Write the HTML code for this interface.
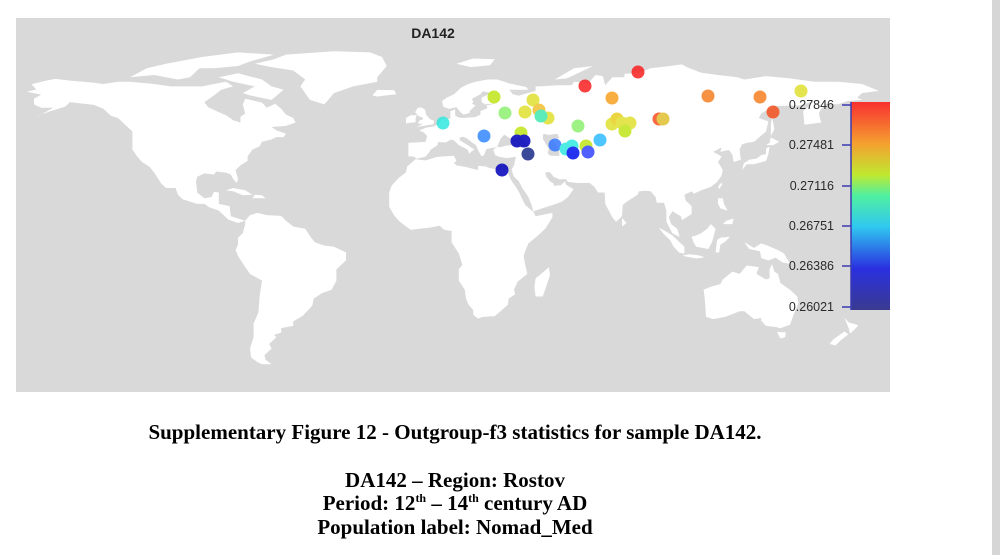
<!DOCTYPE html>
<html><head><style>
body{margin:0;width:1000px;height:555px;background:#fff;position:relative;overflow:hidden;font-family:"Liberation Sans",sans-serif}
.cap{position:absolute;left:0;width:910px;text-align:center;font-family:"Liberation Serif",serif;font-weight:bold;font-size:21px;line-height:24px;color:#000}
</style></head><body>
<div style="position:absolute;left:992px;top:0;width:8px;height:555px;background:#d6d6d6"></div>
<svg width="1000" height="400" style="position:absolute;left:0;top:0">
<rect x="16" y="18" width="874" height="374" fill="#d9d9d9"/>
<text x="433" y="38" text-anchor="middle" font-weight="bold" font-size="14" fill="#222">DA142</text>
<g transform="translate(430,240) scale(2.40,-2.26)" fill="#fff">
<polygon points="-165,54.5 -158,57 -152,59 -150,61 -146,60.5 -140,59.8 -136,58 -133,55 -130,54 -127,51 -124,48 -124,43 -124,40 -122,37 -120,34.5 -117,32.5 -115,30 -112,25 -110,23 -106,23 -105,20 -103,18 -97,16 -94,16 -92,14.5 -88,13 -86,11 -84,9 -80,7.5 -77,8.5 -80,9.5 -83,10.5 -83.5,15 -88,16 -88,21 -90,21.3 -91,19 -94,18.5 -97,21 -97.5,26 -97,28 -94,29.5 -90,29 -89,30.3 -85,29.8 -83,29 -82,27 -80.5,25.2 -80,27 -81,31 -79,33 -76,35 -76,37 -74,40 -71,41.5 -70,43.5 -66,44.5 -64,45.5 -61,45.5 -60,47 -64,48.5 -66,50 -60,50.5 -56,52 -57,54 -60,55.5 -62,58 -64.5,60.3 -68,58.5 -70,60.8 -77,62.5 -78,60 -77,56 -79,54.5 -79,52 -82,53 -85,55.2 -89,57 -92.5,58.8 -94,61 -90,64 -87,66.5 -82,68 -85,70 -90,69 -95,68 -100,68 -108,68 -115,69 -125,70 -130,70 -136,69 -141,69.7 -150,70.5 -156,71.3 -160,70.5 -166,68.9 -164,66.6 -168,65.6 -162,64.3 -165,62.5 -165,60 -162,58.5 -157,58.5 -162,55.5"/>
<polygon points="-61,66.5 -66,62 -75,64 -78,65 -73,68 -82,70 -88,72 -80,73.8 -70,71 -66,68"/>
<polygon points="-125,72 -115,73 -105,71 -100,72 -96,76 -90,76 -80,77 -75,79 -65,82 -80,83 -95,81 -110,78 -118,76"/>
<polygon points="-44,60 -50,62 -52,65 -54,68 -52,71 -57,75 -66,76.5 -73,78 -65,80 -60,82 -40,83.5 -25,83 -20,81 -18,77 -22,72 -22,70 -32,68 -40,65"/>
<polygon points="-24,64 -22,63.5 -14,64.5 -15,66.3 -22,66.4"/>
<polygon points="-85,22 -82,23 -77,22 -74,20 -78,19.8 -82,21.5"/>
<polygon points="-74,18.5 -68.5,18.5 -70,19.8 -73,20"/>
<polygon points="-77,8.5 -75,11 -72,12 -68,11 -62,10.7 -60,8.5 -57,6 -52,5 -50,1.7 -48,-1 -44,-2.5 -40,-3 -35,-5.5 -35,-9 -39,-13 -39,-18 -41,-22 -45,-23.5 -48.5,-26 -49,-29 -53,-33.5 -57,-36 -57,-38 -62,-39 -62,-41 -65,-42 -64,-43 -67,-46 -66,-48 -69,-51 -68.5,-53 -66,-55 -70,-55 -72,-54 -74.5,-52 -75,-48 -73.5,-43 -73.5,-37 -71.5,-32 -71,-25 -70,-18 -75,-15 -77,-12 -80,-7 -81,-4.5 -80,-2 -80,1 -78,3 -77,7"/>
<polygon points="-17,21 -16,24 -13,27.5 -10,30 -9.5,32.5 -6,35.8 -2,35.2 3,36.8 10,37.3 11,35 10,34 11,33 15,32.3 20,31 20,32.8 23,32.6 25,31.8 29,31 32.3,31.2 32.5,29.9 33.5,27 35.5,23.9 37.2,21 38.5,18 39.7,15.5 41.5,13.8 43.2,12.4 44,10.5 51,12 51,10 48,5 45,2 41,-1.5 40,-4 39,-7 39.5,-10 40.5,-15 36.5,-18.5 35,-22 35.5,-24 32.7,-26 32.5,-28.6 30,-31 27,-33.7 22,-34 20,-34.8 18,-33 18,-31 16,-28.5 15,-26 14.5,-22 12,-18 12,-13 13.5,-11 12,-6 9,-1 9,4 6,4.5 4,6.3 0,5.5 -4.5,5 -8,4.5 -11,6.8 -13,8.5 -15,11 -17,14.7"/>
<polygon points="44,-25 47,-25 50,-15.5 49.5,-12 48,-13.5 44,-17 43.5,-21"/>
<polygon points="-9,37 -9,43 -1.8,43.4 -1.2,46 -2.5,47.5 -4.5,48.5 -1.5,49.7 1.5,50.2 4,51.5 5,53.4 8.5,53.7 8.5,57 10.5,57.7 10.5,55 12,54.2 14,54 19,54.4 21,55.5 21,57 24,58.4 23.5,59.5 28,60.5 23,60 21.5,61 21.5,63 25.5,65 22,65.8 21,64.5 17.5,62.5 18,61 17.5,60.3 19,59.5 16.5,57 16.5,56.2 14,55.5 12.7,56.5 11,58.8 8,58 5.5,59 5,61.5 7,63 10,64.5 13,67.5 16,69 19,70 24,71 28,71 31,70 33,69.3 40,67.7 41,66.5 33,66.5 34.5,64.5 37,63.8 39,64.5 44,66 44,68 46,68 53,68.5 59,68.5 60,70 66,69.5 69,73 72,72.5 73,68.5 76,72 81,72 81,73.5 87,74 92,76 100,77 105,77.7 107,76.5 113,74 120,73 128,72 131,71 140,72.5 150,71.5 160,70 170,70 180,69 187,66 180,65 178,63 180,62 174,61.5 170,60 165,60.3 163,58 162,56 163,52 156,51 155.5,57 160,61.5 154,59.5 143,59.3 138,56 137,54 141,52.5 140,48 135,43.5 132,43 130,42.3 129,40 129.5,35.5 126.5,34.5 126,37.8 124.5,39.8 121,39 121.5,41 118,39 121.5,37 120,34.5 122,31 121.5,28.5 119.5,25.5 117,23.5 113,22 110,20.5 109,21.5 106,20 106.5,17.5 109,15 109,11.5 105,8.8 104.5,10.5 101,12.8 99.5,10 100.5,7 103,5 104,1.3 101,3 98.5,8 98.5,13 97.5,16.5 94.5,16.5 94,19 92,21.5 90,21.8 87,21.5 86.5,20 82,17 80.3,15.5 80,10.5 77.5,8 76,10 73,16 72.8,21 70,21 68.5,23.5 66.5,25.3 61.5,25.2 57.5,25.7 56.5,27 54,26.8 51.5,28 50,30 48,30 48.5,28 50,26 51.5,25 51.5,24 54.5,24.2 56.3,26 56.6,24.5 59.8,22.5 57.5,19 55,17 52,15.8 43,12.7 42.5,15 41,19 38.5,23 37,26 35,28 34.5,29.5 34,31.2 35,33 35.8,36.8 32,36.3 29,36.7 27.2,37.5 26.5,39.5 26.5,40.2 28,41 26,40.8 23.5,40.2 22.5,37.5 21.5,37 20,39.8 19.3,41.8 15,45.2 13.7,45.7 12.3,45.3 12.5,44 16,41.8 18.5,40 17,39 16.5,38 15.7,40 12,42 10,44 8.7,44.4 6.6,43.2 3.3,43.3 3.1,41.9 0.3,40 -0.5,38.5 -2,36.8 -5.6,36 -7,37"/>
<polygon points="-5.7,50 1.4,51.2 1.7,52.7 0,53.5 -1.7,55.6 -2,57.6 -3.4,58.6 -5,58.6 -6.2,56.5 -4.8,54.8 -3,54.2 -3,53.3 -4.5,52.8 -5,51.6 -3,51.3"/>
<polygon points="-10,51.6 -6,52.1 -6,54 -5.5,55.2 -8,55.2 -10,54"/>
<polygon points="130,31 132,33.5 135,33.5 140,35 141,38 141.5,41.3 140,40.5 140,38 138,37.5 136,36 133,35.5 130.8,34"/>
<polygon points="140,42 143,42 145.5,43.5 142,45.4 141.5,43"/>
<polygon points="142,46 143.5,49 142.5,54.4 142,51"/>
<polygon points="120.5,22.5 122,25 121,25 120,23.5"/>
<polygon points="120,18.5 122,18.5 122.5,16 124,13 121,14 120,16"/>
<polygon points="122,7 126,7 126.5,9.5 123.5,8.5"/>
<polygon points="109,1.5 110.5,1.8 113,3 115.5,5 117,7 119,5 118,1 117.5,-1 116,-4 111,-3 110,-1.5"/>
<polygon points="95.3,5.5 98,4 101,2 104,-1 106,-3 106,-6 104,-5.7 101.5,-3 100,0 97.5,2.5"/>
<polygon points="105.3,-6.8 108,-6.3 112,-6.8 114.5,-7.7 111,-8.2 106.5,-7.3"/>
<polygon points="119,-5.5 120.5,-5.5 121,-2 123,-0.8 125,1.5 121,1 119.6,0"/>
<polygon points="131,-1 135,-3.5 138,-1.5 141,-2.6 145,-4.5 147.5,-6 150,-10.5 147,-10 144,-7.8 141,-9 138,-8 137.5,-5 133,-4"/>
<polygon points="114,-22 114.5,-26 115,-34 118,-35 123,-34 129,-31.5 131,-31.5 135,-35 138,-34.5 138,-35.7 140,-38 144,-38.5 146,-39 150,-37.5 151.5,-33 153.5,-28 153,-25 150,-22 146,-19 145,-15 143.5,-14 142.5,-10.7 141.5,-13 141.5,-17 140,-17.5 136,-15 137,-12 132,-11.3 129,-15 126,-14 122,-17.5 121,-19.5 117,-20.7"/>
<polygon points="144.6,-40.7 148.3,-40.9 148,-43 146,-43.6"/>
<polygon points="172.7,-34.4 174.5,-36.5 178.5,-37.7 177,-39.5 175,-41.5 174.6,-39.5"/>
<polygon points="172.7,-40.5 174.3,-41.7 171,-44.5 169,-46.6 166.5,-46 168,-44"/>
<polygon points="80,6 81.9,7.5 80,9.8"/>
<polygon points="52,71 56,73.5 60,76 68,77 62,74 57,71.5"/>
<polygon points="11,78 17,76.5 25,77.3 27,80 18,80.3"/>
<g fill="#d9d9d9">
<polygon points="28,41.2 29.5,45 31,46.6 33,45.2 35,45 36.5,45.3 38,47 39.5,47.2 38,45.3 41.5,41.6 38,40.9 35,42 32,41.8 29.5,41.1"/>
<polygon points="47,44.8 47.2,47 49.5,46.5 53,47 54,45 51,44.6 52.5,41.8 53.8,40.5 53.9,37.2 50,37.3 49,38.5 49.5,40.3"/>
</g>
</g>
<g opacity="0.85">
<circle cx="494" cy="97" r="6.5" fill="#bfe61a"/>
<circle cx="533" cy="100" r="6.5" fill="#e0e030"/>
<circle cx="585" cy="86" r="6.5" fill="#f82020"/>
<circle cx="638" cy="72" r="6.5" fill="#f82020"/>
<circle cx="612" cy="98" r="6.5" fill="#f7a020"/>
<circle cx="708" cy="96" r="6.5" fill="#f58020"/>
<circle cx="760" cy="97" r="6.5" fill="#f58020"/>
<circle cx="801" cy="91" r="6.5" fill="#e0e030"/>
<circle cx="773" cy="112" r="6.5" fill="#f55020"/>
<circle cx="505" cy="113" r="6.5" fill="#8ef070"/>
<circle cx="525" cy="112" r="6.5" fill="#e0e030"/>
<circle cx="539" cy="110" r="6.5" fill="#f0c030"/>
<circle cx="548" cy="118" r="6.5" fill="#e0e030"/>
<circle cx="541" cy="116" r="6.5" fill="#40e8b0"/>
<circle cx="443" cy="123" r="6.5" fill="#30e8e0"/>
<circle cx="484" cy="136" r="6.5" fill="#3388ff"/>
<circle cx="521" cy="133" r="6.5" fill="#bfe61a"/>
<circle cx="517" cy="141" r="6.5" fill="#0000bb"/>
<circle cx="524" cy="141" r="6.5" fill="#0000bb"/>
<circle cx="528" cy="154" r="6.5" fill="#1a2a8a"/>
<circle cx="502" cy="170" r="6.5" fill="#0000bb"/>
<circle cx="555" cy="145" r="6.5" fill="#3377ff"/>
<circle cx="566" cy="149" r="6.5" fill="#30e8e0"/>
<circle cx="572" cy="146" r="6.5" fill="#30e8e0"/>
<circle cx="586" cy="146" r="6.5" fill="#bfe61a"/>
<circle cx="573" cy="153" r="6.5" fill="#0010ee"/>
<circle cx="588" cy="152" r="6.5" fill="#3344ff"/>
<circle cx="600" cy="140" r="6.5" fill="#30bbff"/>
<circle cx="578" cy="126" r="6.5" fill="#8ef070"/>
<circle cx="612" cy="124" r="6.5" fill="#e0e030"/>
<circle cx="617" cy="119" r="6.5" fill="#e8d020"/>
<circle cx="622" cy="123" r="6.5" fill="#e0e030"/>
<circle cx="630" cy="123" r="6.5" fill="#e0e030"/>
<circle cx="625" cy="131" r="6.5" fill="#bfe61a"/>
<circle cx="659" cy="119" r="6.5" fill="#f55020"/>
<circle cx="663" cy="119" r="6.5" fill="#e0c030"/>
</g>
<defs><linearGradient id="g" x1="0" y1="0" x2="0" y2="1">
<stop offset="0" stop-color="#f83030"/><stop offset="0.2" stop-color="#f5a030"/><stop offset="0.35" stop-color="#c0e830"/><stop offset="0.45" stop-color="#50f0a0"/><stop offset="0.6" stop-color="#30c8f0"/><stop offset="0.8" stop-color="#2a30e0"/><stop offset="1" stop-color="#3a3a90"/></linearGradient></defs>
<rect x="851" y="102" width="39" height="208" fill="url(#g)"/>
<line x1="851" y1="102" x2="851" y2="310" stroke="#3a3ab0" stroke-width="1.5"/>
<g stroke="#3a3ab0" stroke-width="1.5"><line x1="842" y1="105" x2="851" y2="105"/><line x1="842" y1="145" x2="851" y2="145"/><line x1="842" y1="186" x2="851" y2="186"/><line x1="842" y1="226" x2="851" y2="226"/><line x1="842" y1="266" x2="851" y2="266"/><line x1="842" y1="307" x2="851" y2="307"/></g>
<g font-size="12.5" fill="#2a2a2a" text-anchor="end">
<text x="834" y="109">0.27846</text><text x="834" y="149">0.27481</text><text x="834" y="190">0.27116</text><text x="834" y="230">0.26751</text><text x="834" y="270">0.26386</text><text x="834" y="311">0.26021</text></g>
</svg>
<div class="cap" style="top:420px">Supplementary Figure 12 - Outgroup-f3 statistics for sample DA142.</div>
<div class="cap" style="top:468px">DA142 – Region: Rostov</div>
<div class="cap" style="top:491px">Period: 12<sup style="font-size:12px;line-height:0">th</sup> – 14<sup style="font-size:12px;line-height:0">th</sup> century AD</div>
<div class="cap" style="top:515px">Population label: Nomad_Med</div>
</body></html>
